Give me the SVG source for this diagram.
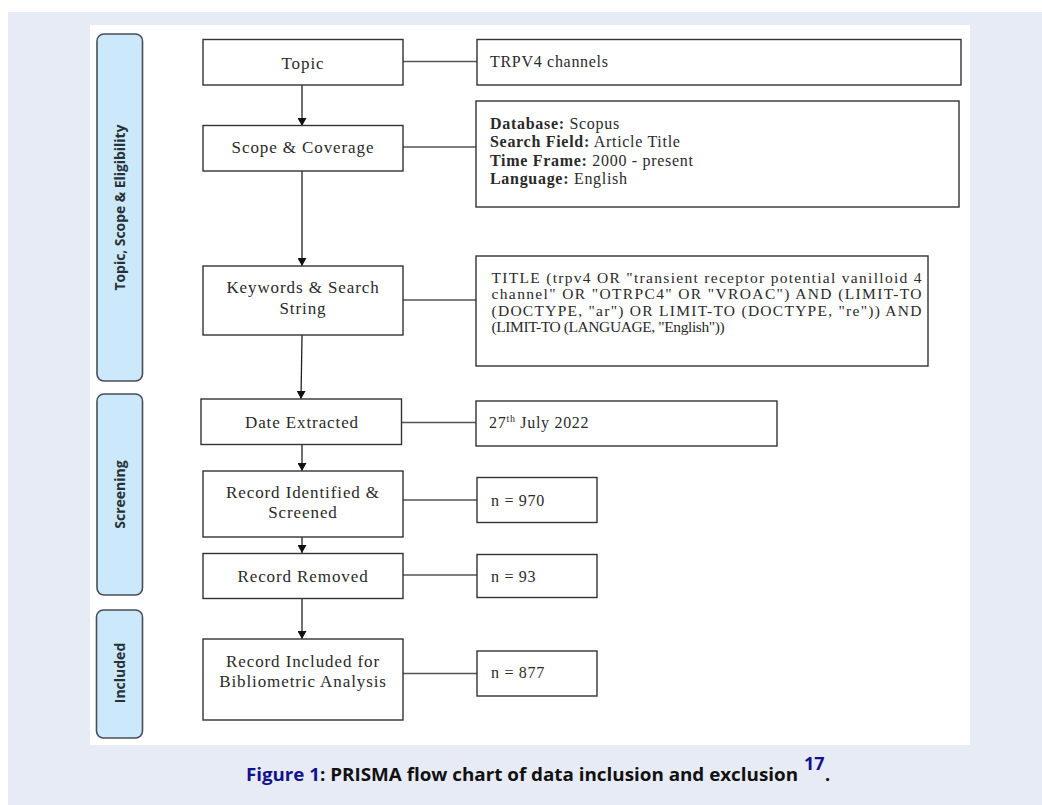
<svg xmlns="http://www.w3.org/2000/svg" width="1042" height="805" viewBox="0 0 1042 805">
<defs>
<marker id="arr" markerWidth="8" markerHeight="9" refX="8" refY="4.5" orient="auto" markerUnits="userSpaceOnUse">
<path d="M0,0 L8,4.5 L0,9 Z" fill="#111"/>
</marker>
<style>
.box{fill:#fff;stroke:#333;stroke-width:1.4}
.side{fill:#cce8fb;stroke:#474d55;stroke-width:1.6}
.lt{font-family:"Liberation Serif",serif;font-size:17px;fill:#2a2a2a;text-anchor:middle;letter-spacing:0.9px}
.rt{font-family:"Liberation Serif",serif;font-size:16px;fill:#2a2a2a;letter-spacing:0.7px}
.tt{font-family:"Liberation Serif",serif;font-size:15.5px;fill:#2a2a2a}
.sl{font-family:"Open Sans","Liberation Sans",sans-serif;font-size:14px;font-weight:bold;fill:#263238;text-anchor:middle}
.conn{stroke:#555;stroke-width:1.3;fill:none}
.arrow{stroke:#222;stroke-width:1.3;fill:none;marker-end:url(#arr)}
.cap{font-family:"Open Sans","Liberation Sans",sans-serif;font-size:18px;font-weight:bold}
</style>
</defs>
<rect x="0" y="0" width="1042" height="805" fill="#fff"/>
<rect x="8" y="12" width="1034" height="793" fill="#e7ebf6"/>
<rect x="90" y="25" width="880" height="720" fill="#fff"/>

<g id="connectors">
<line class="arrow" x1="302" y1="85" x2="302" y2="126"/>
<line class="arrow" x1="302" y1="171" x2="302" y2="266"/>
<line class="arrow" x1="302" y1="335" x2="301" y2="399"/>
<line class="arrow" x1="302" y1="445" x2="302" y2="471"/>
<line class="arrow" x1="302" y1="537" x2="302" y2="553"/>
<line class="arrow" x1="302" y1="598" x2="302" y2="639"/>
<line class="conn" x1="403" y1="61.5" x2="477" y2="61.5"/>
<line class="conn" x1="403" y1="147" x2="476" y2="147"/>
<line class="conn" x1="403" y1="300" x2="476" y2="300"/>
<line class="conn" x1="401" y1="422.5" x2="476" y2="422.5"/>
<line class="conn" x1="403" y1="500" x2="477" y2="500"/>
<line class="conn" x1="403" y1="575" x2="477" y2="575"/>
<line class="conn" x1="403" y1="673.5" x2="477" y2="673.5"/>
</g>

<g id="side-topic">
<rect class="side" x="97" y="34" width="45.5" height="347" rx="7"/>
<text class="sl" transform="translate(125,207.5) rotate(-90)" textLength="166" lengthAdjust="spacingAndGlyphs">Topic, Scope &amp; Eligibility</text>
</g>
<g id="side-screening">
<rect class="side" x="97" y="394" width="45.5" height="201" rx="7"/>
<text class="sl" transform="translate(125,494.5) rotate(-90)">Screening</text>
</g>
<g id="side-included">
<rect class="side" x="96.5" y="610" width="46" height="128" rx="7"/>
<text class="sl" transform="translate(125,673) rotate(-90)">Included</text>
</g>

<g id="topic">
<rect class="box" x="203" y="39.5" width="200" height="45.5"/>
<text class="lt" x="303" y="68.5">Topic</text>
</g>
<g id="scope">
<rect class="box" x="203" y="125.5" width="200" height="45.5"/>
<text class="lt" x="303" y="153">Scope &amp; Coverage</text>
</g>
<g id="keywords">
<rect class="box" x="203" y="266" width="200" height="69"/>
<text class="lt" x="303" y="293">Keywords &amp; Search</text>
<text class="lt" x="303" y="314">String</text>
</g>
<g id="date">
<rect class="box" x="201" y="399" width="200.5" height="45.5"/>
<text class="lt" x="302" y="427.5">Date Extracted</text>
</g>
<g id="identified">
<rect class="box" x="203" y="471" width="200" height="66"/>
<text class="lt" x="303" y="498">Record Identified &amp;</text>
<text class="lt" x="303" y="518">Screened</text>
</g>
<g id="removed">
<rect class="box" x="203" y="553.5" width="200" height="45"/>
<text class="lt" x="303" y="581.5">Record Removed</text>
</g>
<g id="included">
<rect class="box" x="203" y="639" width="200" height="81"/>
<text class="lt" x="303" y="666.5">Record Included for</text>
<text class="lt" x="303" y="686.5">Bibliometric  Analysis</text>
</g>

<g id="trpv4">
<rect class="box" x="477" y="39.5" width="484" height="45.5"/>
<text class="rt" x="490" y="67">TRPV4 channels</text>
</g>
<g id="scope-detail">
<rect class="box" x="476" y="101" width="483" height="106"/>
<text class="rt" x="490" y="128.5"><tspan font-weight="bold">Database:</tspan> Scopus</text>
<text class="rt" x="490" y="147"><tspan font-weight="bold">Search Field:</tspan> Article  Title</text>
<text class="rt" x="490" y="165.5"><tspan font-weight="bold">Time Frame:</tspan> 2000 - present</text>
<text class="rt" x="490" y="184"><tspan font-weight="bold">Language:</tspan> English</text>
</g>
<g id="search-string">
<rect class="box" x="476" y="256" width="452" height="110"/>
<text class="tt" x="491.5" y="282.5" textLength="430" lengthAdjust="spacing">TITLE (trpv4 OR "transient receptor potential vanilloid 4</text>
<text class="tt" x="491.5" y="299" textLength="430" lengthAdjust="spacing">channel" OR "OTRPC4" OR "VROAC") AND (LIMIT-TO</text>
<text class="tt" x="491.5" y="315.5" textLength="430" lengthAdjust="spacing">(DOCTYPE, "ar") OR LIMIT-TO (DOCTYPE, "re")) AND</text>
<text class="tt" x="491.5" y="332" font-size="15" letter-spacing="-0.4">(LIMIT-TO (LANGUAGE,  "English"))</text>
</g>
<g id="date-value">
<rect class="box" x="476" y="401" width="301" height="45"/>
<text class="rt" x="489" y="428">27<tspan font-size="10" dy="-6">th</tspan><tspan dy="6"> July 2022</tspan></text>
</g>
<g id="n970">
<rect class="box" x="477" y="477.5" width="120" height="45"/>
<text class="rt" x="491" y="505.5">n = 970</text>
</g>
<g id="n93">
<rect class="box" x="477" y="554.5" width="120" height="43"/>
<text class="rt" x="491" y="581.5">n = 93</text>
</g>
<g id="n877">
<rect class="box" x="477" y="651" width="120" height="45"/>
<text class="rt" x="491" y="678">n = 877</text>
</g>

<g id="caption">
<text class="cap" x="246" y="780.5" fill="#12128f" textLength="74" lengthAdjust="spacingAndGlyphs">Figure 1</text>
<text class="cap" x="320" y="780.5" fill="#111" textLength="478" lengthAdjust="spacingAndGlyphs">: PRISMA flow chart of data inclusion and exclusion</text>
<text class="cap" x="804" y="770" fill="#12128f" font-size="12">17</text>
<text class="cap" x="825" y="780.5" fill="#111">.</text>
</g>
</svg>
